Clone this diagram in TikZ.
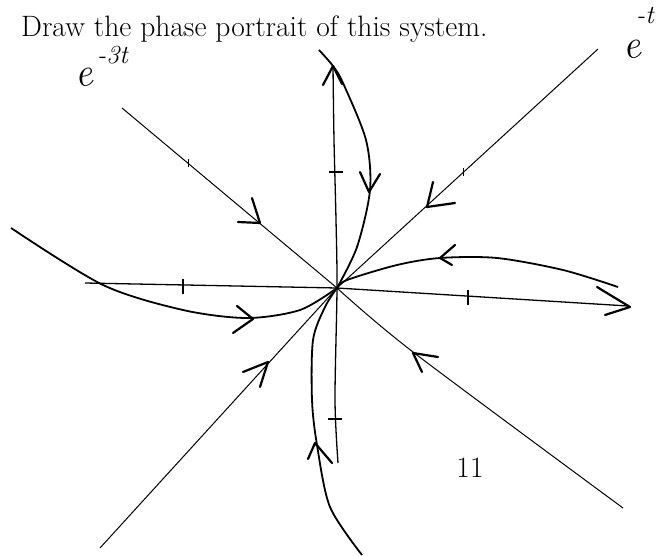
\documentclass[tikz,border=0pt]{standalone}
\usepackage{fontspec}
\usepackage{tikz}
\usetikzlibrary{calc}

\begin{document}
\begin{tikzpicture}[x=1pt, y=-1pt,
  asse/.style={line width=1.3pt},
  diag/.style={line width=1pt},
  traiett/.style={line width=1.8pt},
  punta/.style={line width=2.2pt, line cap=round, line join=round},
  tacca/.style={line width=1.5pt},
  taccafine/.style={line width=1pt},
  stampa/.style={inner sep=0pt, font=\fontsize{29.5}{34}\selectfont},
  mano/.style={inner sep=0pt, font=\fontsize{40}{40}\itshape},
  esp/.style={inner sep=0pt, anchor=west, font=\fontsize{26}{26}\itshape}]
\useasboundingbox (0,0) rectangle (666,556);

\coordinate (O) at (337,288);

% testo stampato
\node[stampa, anchor=base west] (titolo) at (21,37) {Draw the phase portrait of this system.};
\node[stampa] (pagina) at (470,468) {11};

% etichette a mano
\node[mano, rotate=8] (lenta) at (84,78) {e};
\node[esp] (lentaesp) at (97,55) {-3t};
\node[mano, rotate=8] (veloce) at (632,50) {e};
\node[esp] (veloceesp) at (636,16) {-t};

% autovettori
\draw[diag] (122,108) -- (O);
\draw[diag] plot[smooth] coordinates {(O) (413,352) (623,508)};
\draw[diag] (100,548) -- (O) -- (598,49);

% assi
\draw[asse] (85,283) -- (O) -- (628,306);
\draw[asse] plot[smooth] coordinates {(333,66) (334,140) (336,220) (O) (335,400) (338,463)};

% tacche
\draw[tacca] (183,279) -- (183,294);
\draw[tacca] (468,290) -- (468,305);
\draw[tacca] (329,172) -- (343,172);
\draw[tacca] (328,419) -- (342,419);
\draw[taccafine] (188,159) -- (188,167);
\draw[taccafine] (463,168) -- (463,176);

% traiettorie
\draw[traiett] plot[smooth] coordinates {(11,228) (103,285) (183,310) (247,318) (300,310) (O)};
\draw[traiett] plot[smooth] coordinates {(618,287) (563,270) (497,258) (440,258) (397,265) (347,280) (O)};
\draw[traiett] plot[smooth] coordinates {(319,50) (333,66) (343,83) (366,140) (370,190) (357,247) (O)};
\draw[traiett] plot[smooth] coordinates {(362,555) (330,507) (317,445) (312,400) (313,340) (325,307) (O)};

% frecce
\draw[punta] (323,85) -- (333,66) -- (342,84);
\draw[punta] (597,287) -- (630,307) -- (605,315);
\draw[punta] (360,172) -- (369,192) -- (380,174);
\draw[punta] (455,245) -- (440,258) -- (452,265);
\draw[punta] (237,306) -- (253,319) -- (233,333);
\draw[punta] (308,459) -- (315,443) -- (332,463);
\draw[punta] (252,198) -- (260,223) -- (238,222);
\draw[punta] (433,182) -- (427,207) -- (455,203);
\draw[punta] (243,372) -- (268,362) -- (260,387);
\draw[punta] (438,357) -- (413,353) -- (422,372);

\end{tikzpicture}
\end{document}
